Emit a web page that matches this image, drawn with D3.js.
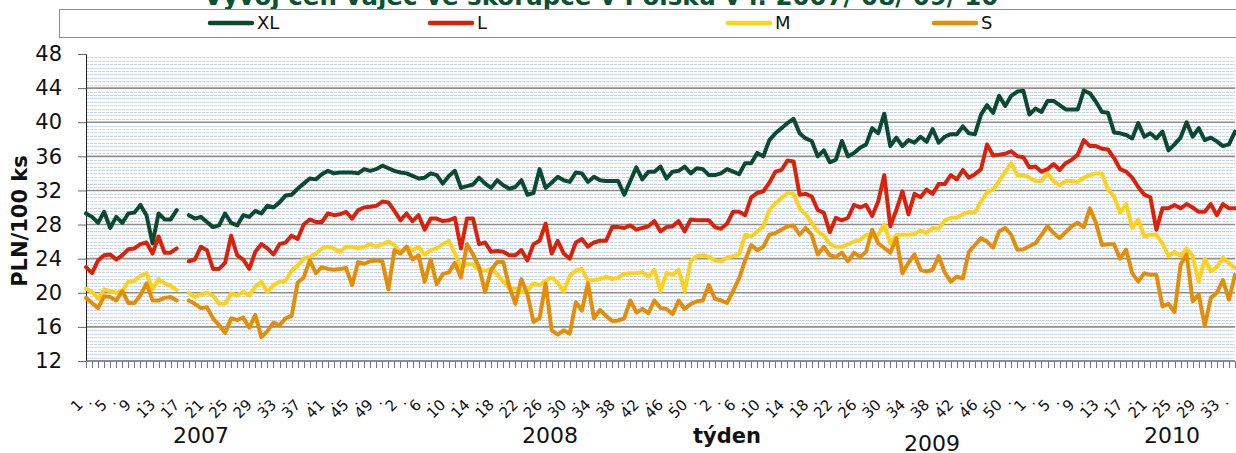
<!DOCTYPE html>
<html>
<head>
<meta charset="utf-8">
<script src="https://cdn.jsdelivr.net/npm/d3@7"></script>
<style>
  body { margin: 0; background: #fff; }
  svg { display: block; font-family: "DejaVu Sans", Verdana, sans-serif; }
</style>
</head>
<body>
<svg id="chart" width="1236" height="453"></svg>
<script>
// weeks shown for each year
const years = [2007, 2008, 2009, 2010];
const firstWeek = [1, 2, 1, 1];
const lastWeek = [52, 52, 53, 35];

const seriesNames = ["XL", "L", "M", "S"];
const seriesColors = ["#0b4a2e", "#db2108", "#fdd21e", "#e48e08"];
const yTicks = [12, 16, 20, 24, 28, 32, 36, 40, 44, 48];

// PLN / 100 ks, week by week (null = no price)
const xl = [29.3, 28.9, 28.2, 29.5, 27.6, 28.9, 28.2, 29.3, 29.4, 30.3, 29.1, 25.8, 29.3, 28.6, 28.6, 29.7, null,
  29.1, 28.7, 28.9, 28.3, 27.7, 27.9, 29.3, 28.2, 27.9, 29.1, 28.9, 29.6, 29.3, 30.2, 30.0, 30.6, 31.4, 31.5, 32.2, 32.8, 33.4, 33.3, 33.9, 34.3, 34.0, 34.1, 34.1, 34.1,
  34.0, 34.5, 34.3, 34.5, 34.9, 34.6, 34.3, 34.1, 34.0, 33.7, 33.4, 33.5, 34.0, 33.8, 32.8, 33.7, 34.3, 32.3, 32.5, 32.7, 33.5, 32.8, 32.3, 33.2, 32.6, 32.2, 32.4, 33.2, 31.5, 31.7, 34.5, 32.3, 32.9, 33.6, 33.2, 33.0, 34.1, 34.0, 33.0, 33.6, 33.2, 33.1, 33.1, 33.1, 31.5, 33.1, 34.7,
  33.3, 34.2, 34.2, 34.8, 33.4, 34.2, 34.3, 34.8, 34.0, 34.6, 34.5, 33.8, 33.8, 34.0, 34.5, 34.2, 33.9, 35.2, 35.2, 36.4, 36.0, 37.9, 38.7, 39.3, 39.9, 40.4, 38.7, 38.1, 37.8, 36.0, 36.7, 35.3, 35.6, 37.8, 36.0, 36.4, 37.0, 37.4, 39.3, 38.7, 41.0, 37.2, 38.2, 37.2, 37.9, 37.6, 38.3,
  37.7, 39.2, 37.6, 38.3, 38.6, 38.6, 39.5, 38.7, 38.6, 40.9, 42.0, 41.1, 43.1, 41.9, 43.1, 43.6, 43.7, 40.9, 41.6, 41.2, 42.5, 42.5, 42.0, 41.5, 41.5, 41.5, 43.7, 43.4, 42.4, 41.2, 41.1, 38.8, 38.7, 38.5, 38.1, 39.9, 38.3, 38.7, 38.1, 38.9, 36.7, 37.4, 38.2, 40.0, 38.3, 39.3, 37.9, 38.2, 37.75, 37.2, 37.4, 38.9];

const l = [23.0, 22.3, 23.8, 24.4, 24.5, 23.9, 24.4, 25.1, 25.2, 25.7, 25.9, 24.6, 26.6, 24.7, 24.7, 25.2, null,
  23.7, 23.9, 25.4, 25.0, 22.8, 22.8, 23.5, 26.7, 24.4, 23.9, 22.8, 24.8, 25.7, 25.2, 24.5, 25.7, 25.9, 26.7, 26.3, 28.0, 28.6, 28.3, 28.3, 29.3, 29.1, 29.2, 29.5, 28.7,
  29.7, 30.0, 30.1, 30.2, 30.7, 30.6, 29.6, 28.5, 29.3, 28.4, 29.1, 27.4, 28.7, 28.7, 28.4, 28.5, 28.8, 25.2, 28.7, 28.7, 25.7, 25.9, 24.8, 24.9, 24.8, 24.4, 24.4, 25.0, 23.8, 25.7, 26.1, 28.1, 24.6, 26.1, 24.6, 24.0, 25.9, 26.3, 25.4, 25.9, 26.1, 26.1, 27.7, 27.7, 27.6, 27.9, 27.4,
  27.6, 27.8, 28.4, 27.2, 27.7, 27.8, 28.4, 27.2, 28.6, 28.5, 28.5, 28.5, 27.7, 27.5, 28.1, 29.5, 29.5, 29.1, 31.2, 31.7, 31.9, 32.9, 34.2, 34.4, 35.5, 35.4, 31.5, 31.6, 31.3, 29.7, 29.4, 27.1, 28.8, 28.5, 28.8, 30.3, 30.0, 30.3, 29.0, 30.7, 33.8, 27.8, 29.7, 31.9, 29.2, 31.6, 31.2,
  32.1, 31.6, 32.75, 32.75, 33.8, 33.3, 34.4, 33.5, 33.9, 34.5, 37.4, 36.1, 36.2, 36.3, 36.6, 36.0, 35.9, 34.7, 34.8, 34.2, 34.5, 35.1, 34.4, 35.2, 35.6, 36.2, 37.9, 37.2, 37.2, 36.9, 36.8, 35.8, 34.5, 34.2, 33.5, 32.4, 31.5, 31.2, 27.4, 29.9, 29.9, 30.3, 29.9, 30.4, 30.0, 29.5, 29.5, 30.4, 29.1, 30.4, 29.9, 29.9];

const m = [20.5, 20.1, 19.3, 20.4, 20.2, 20.0, 20.2, 21.3, 21.4, 22.0, 22.3, 20.4, 21.6, 21.1, 20.8, 20.3, null,
  20.0, 19.5, 19.8, 20.0, 19.7, 18.7, 18.7, 19.9, 19.7, 20.1, 19.7, 20.7, 21.3, 20.1, 20.9, 21.3, 21.4, 22.6, 23.2, 24.0, 24.2, 24.6, 25.2, 25.4, 25.2, 24.8, 25.4, 25.4,
  25.2, 25.4, 25.7, 25.4, 25.7, 26.0, 25.6, 24.7, 25.4, 25.0, 25.4, 24.5, 25.0, 25.2, 25.7, 26.1, 24.6, 23.0, 23.4, 23.3, 22.7, 22.6, 22.8, 22.2, 21.3, 20.5, 20.5, 20.1, 20.3, 21.1, 20.9, 21.4, 21.8, 21.2, 20.1, 22.0, 22.6, 22.8, 21.4, 21.5, 21.6, 21.9, 21.6, 21.8, 22.2, 22.3, 22.3,
  22.4, 21.9, 22.7, 20.2, 22.3, 22.1, 22.7, 20.2, 23.7, 24.3, 24.4, 24.2, 23.8, 23.7, 24.1, 24.3, 24.5, 26.8, 26.6, 27.2, 27.8, 29.7, 30.5, 31.1, 31.7, 31.6, 29.9, 29.2, 28.2, 27.2, 26.7, 25.7, 25.4, 25.4, 25.7, 26.0, 26.2, 26.8, 26.6, 26.8, 28.0, 25.8, 26.8, 26.8, 26.8, 26.9, 27.3,
  27.0, 27.6, 27.5, 28.5, 28.8, 28.8, 29.2, 29.5, 29.4, 30.7, 31.8, 32.1, 33.1, 34.2, 35.2, 33.8, 33.8, 33.5, 33.1, 33.1, 34.0, 33.1, 32.6, 33.1, 33.1, 33.0, 33.5, 33.8, 34.0, 34.0, 32.1, 31.3, 29.4, 30.4, 27.6, 28.6, 26.6, 26.8, 26.8, 25.8, 24.3, 24.8, 24.3, 25.2, 24.3, 21.3, 24.0, 22.5, 23.0, 24.1, 23.5, 22.9];

const s = [19.4, 18.8, 18.2, 19.6, 19.5, 19.1, 20.2, 18.8, 18.8, 19.7, 21.1, 19.1, 19.1, 19.4, 19.5, 19.1, null,
  19.1, 18.7, 18.2, 18.3, 17.0, 16.2, 15.3, 17.0, 16.8, 17.1, 15.9, 17.4, 14.8, 15.5, 16.5, 16.2, 17.0, 17.3, 21.2, 21.8, 23.8, 22.3, 23.0, 22.8, 22.7,
  22.8, 22.9, 20.9, 23.6, 23.4, 23.7, 23.8, 23.7, 20.4, 25.0, 24.6, 25.4, 23.9, 24.4, 21.3, 23.9, 21.0, 22.2, 22.4, 23.5, 21.8, 25.7, 24.5, 23.0, 20.1, 22.7, 23.6, 23.6, 20.7, 18.7, 21.6, 19.8, 16.6, 17.0, 21.1, 15.6, 15.1, 15.6, 15.2, 18.9, 17.9, 21.1, 17.0, 18.0, 17.3, 16.7, 16.75, 17.0, 19.1, 17.7,
  18.1, 17.6, 19.1, 18.2, 18.1, 17.5, 19.1, 18.1, 18.7, 19.0, 19.1, 20.9, 19.3, 19.1, 18.8, 20.2, 21.7, 23.8, 25.6, 25.0, 25.4, 26.8, 27.0, 27.4, 27.8, 27.9, 26.8, 27.6, 26.8, 24.5, 25.4, 24.4, 24.2, 24.7, 23.7, 24.7, 24.2, 24.8, 27.4, 25.8, 25.25, 24.7, 26.4, 22.3, 23.5, 24.5, 22.7,
  22.5, 22.7, 24.3, 22.4, 21.3, 21.9, 21.7, 24.8, 25.6, 26.4, 26.0, 25.3, 27.2, 27.6, 26.8, 25.05, 25.1, 25.45, 25.8, 26.8, 27.8, 27.0, 26.4, 27.1, 27.8, 28.2, 27.7, 29.9, 28.2, 25.6, 25.7, 25.7, 24.0, 25.05, 22.3, 21.3, 22.3, 22.1, 22.1, 18.4, 18.7, 17.75, 23.3, 24.5, 19.0, 19.8, 16.1, 19.4, 20.0, 21.5, 19.2, 22.1];

const seriesValues = [xl, l, m, s];

// category list: one entry per week
const categories = [];
years.forEach((yr, k) => {
  d3.range(firstWeek[k], lastWeek[k] + 1).forEach(w => categories.push({ year: yr, week: w }));
});

const svg = d3.select("#chart");
const plotLeft = 86, plotRight = 1235, plotTop = 54, plotBottom = 361;

const x = d3.scalePoint()
  .domain(d3.range(categories.length))
  .range([plotLeft, plotRight]);

const y = d3.scaleLinear()
  .domain([12, 48])
  .range([plotBottom, plotTop]);

// title (cut off at the top like the original)
svg.append("text")
  .attr("x", 601)
  .attr("y", 5)
  .attr("text-anchor", "middle")
  .style("font-size", "24.5px")
  .style("font-weight", "bold")
  .style("fill", "#0d5132")
  .text("Vývoj cen vajec ve skořápce v Polsku v r. 2007/ 08/ 09/ 10");

// legend
svg.append("rect")
  .attr("x", 59.5)
  .attr("y", 9.5)
  .attr("width", 1200)
  .attr("height", 28)
  .attr("fill", "#fff")
  .attr("stroke", "#8c8c8c");

const legendX = [208, 428, 726, 932];
const legend = svg.selectAll(".legend-item")
  .data(seriesNames)
  .enter().append("g")
  .attr("class", "legend-item")
  .attr("transform", (d, i) => `translate(${legendX[i]},23)`);

legend.append("line")
  .attr("x1", 2).attr("x2", 44)
  .attr("stroke", (d, i) => seriesColors[i])
  .attr("stroke-width", 4.5)
  .attr("stroke-linecap", "round");

legend.append("text")
  .attr("x", 49)
  .attr("dy", "0.36em")
  .style("font-size", "18px")
  .style("fill", "#111")
  .text(d => d);

// minor grid (light blue dashes)
const minor = d3.range(0, 91).filter(k => k % 10 !== 0).map(k => 12 + k * 0.4);
svg.append("g")
  .selectAll("line")
  .data(minor)
  .enter().append("line")
  .attr("x1", plotLeft).attr("x2", plotRight)
  .attr("y1", d => Math.round(y(d)) + 0.5)
  .attr("y2", d => Math.round(y(d)) + 0.5)
  .attr("stroke", "#c5d5ef")
  .attr("stroke-dasharray", "3,1");

// major grid
svg.append("g")
  .selectAll("line")
  .data(yTicks.filter(v => v > 12 && v < 48))
  .enter().append("line")
  .attr("x1", plotLeft).attr("x2", plotRight)
  .attr("y1", d => y(d))
  .attr("y2", d => y(d))
  .attr("stroke", "#8e8e8e")
  .attr("stroke-width", 1.6);

// y axis
const yAxis = svg.append("g")
  .attr("transform", `translate(${plotLeft},0)`)
  .call(d3.axisLeft(y).tickValues(yTicks).tickSize(8).tickPadding(16));
yAxis.select(".domain").attr("stroke", "#222");
yAxis.selectAll(".tick line").attr("stroke", "#666");
yAxis.selectAll("text")
  .style("font-size", "21px")
  .style("font-family", "'DejaVu Sans', Verdana, sans-serif")
  .style("fill", "#111");

svg.append("text")
  .attr("transform", "translate(27,221) rotate(-90)")
  .attr("text-anchor", "middle")
  .style("font-size", "21px")
  .style("font-weight", "bold")
  .style("fill", "#111")
  .text("PLN/100 ks");

// x axis line and week ticks
svg.append("line")
  .attr("x1", plotLeft).attr("x2", plotRight)
  .attr("y1", plotBottom).attr("y2", plotBottom)
  .attr("stroke", "#666")
  .attr("stroke-width", 1.5);

svg.append("g")
  .selectAll("line")
  .data(d3.range(categories.length))
  .enter().append("line")
  .attr("x1", d => Math.round(x(d)) + 0.5)
  .attr("x2", d => Math.round(x(d)) + 0.5)
  .attr("y1", plotBottom)
  .attr("y2", plotBottom + 7)
  .attr("stroke", "#777");

// week labels, every 4th week with a dot in between
svg.append("g")
  .selectAll("text")
  .data(d3.range(categories.length).filter(i => i % 2 === 0))
  .enter().append("text")
  .attr("transform", i => `translate(${x(i) - 6},402) rotate(-45)`)
  .attr("text-anchor", "end")
  .attr("dy", "0.35em")
  .style("font-size", "15px")
  .style("fill", "#111")
  .text(i => i % 4 === 0 ? String(categories[i].week) : "·");

// year labels and axis title
const yearPos = [[201, 443], [550, 443], [932, 451], [1172, 443]];
svg.append("g")
  .selectAll("text")
  .data(years)
  .enter().append("text")
  .attr("x", (d, i) => yearPos[i][0])
  .attr("y", (d, i) => yearPos[i][1])
  .attr("text-anchor", "middle")
  .style("font-size", "22px")
  .style("fill", "#111")
  .text(d => d);

svg.append("text")
  .attr("x", 727)
  .attr("y", 443)
  .attr("text-anchor", "middle")
  .style("font-size", "21px")
  .style("font-weight", "bold")
  .style("fill", "#111")
  .text("týden");

// series
const line = d3.line()
  .defined(d => d != null)
  .x((d, i) => x(i))
  .y(d => y(d));

svg.append("g")
  .selectAll("path")
  .data(seriesValues)
  .enter().append("path")
  .attr("d", d => line(d))
  .attr("fill", "none")
  .attr("stroke", (d, i) => seriesColors[i])
  .attr("stroke-width", 4)
  .attr("stroke-linejoin", "round")
  .attr("stroke-linecap", "round");
</script>
</body>
</html>
